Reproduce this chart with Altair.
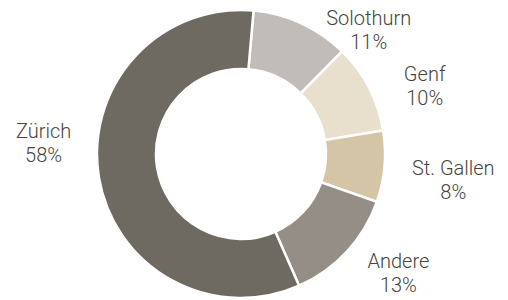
import math
import altair as alt
import pandas as pd

categories = ["Solothurn", "Genf", "St. Gallen", "Andere", "Zürich"]
shares = [11, 10, 8, 13, 58]
colors = ["#c1bcb7", "#e8e0cd", "#d4c5a7", "#958e86", "#6e6961"]

df = pd.DataFrame({
    "cat": categories,
    "share": shares,
    "ord": list(range(len(categories))),
    "label": [f"{c}\n{v}%" for c, v in zip(categories, shares)],
})

offset = math.radians(5)
theta_scale = alt.Scale(domain=[0, 100], range=[offset, offset + 2 * math.pi])

base = alt.Chart(df).transform_window(
    end="sum(share)", sort=[alt.SortField("ord")], frame=[None, 0]
).transform_calculate(
    start="datum.end - datum.share",
    mid="datum.end - datum.share / 2",
)

arcs = base.mark_arc(
    outerRadius=144, innerRadius=85, stroke="white", strokeWidth=2.5
).encode(
    theta=alt.Theta("start:Q", scale=theta_scale, stack=False),
    theta2="end:Q",
    color=alt.Color("cat:N", scale=alt.Scale(domain=categories, range=colors), legend=None),
)

nudges = {
    "Solothurn": (48, 37),
    "Genf": (15, 8),
    "St. Gallen": (23, -2),
    "Andere": (18, -21),
    "Zürich": (-10, -53),
}

layers = [arcs]
for c in categories:
    dx, dy = nudges[c]
    layers.append(
        base.transform_filter(alt.datum.cat == c).mark_text(
            radius=190, dx=dx, dy=dy, lineBreak="\n", font="Roboto", fontWeight=300,
            fontSize=20, color="#48443e", align="center", baseline="middle", lineHeight=24,
        ).encode(
            theta=alt.Theta("mid:Q", scale=theta_scale, stack=False),
            text="label:N",
        )
    )

chart = alt.layer(*layers).properties(
    width=466, height=280,
    autosize=alt.AutoSizeParams(type="none"),
    padding={"left": 0, "top": 6, "right": 26, "bottom": 14},
).configure_view(stroke=None)

chart.save("out.html", embed_options={"renderer": "svg", "actions": False})
